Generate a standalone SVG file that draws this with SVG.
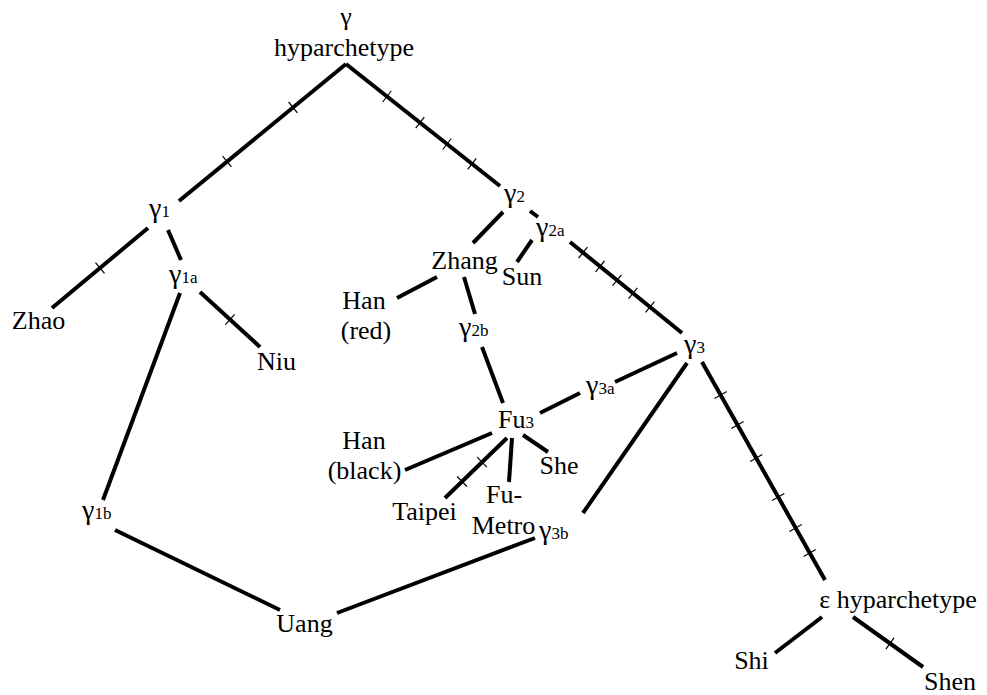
<svg xmlns="http://www.w3.org/2000/svg" width="987" height="695" viewBox="0 0 987 695">
<style>
  text { font-family: "Liberation Serif", "Times New Roman", serif; font-size: 26px; fill: #000; }
  .c { text-anchor: middle; }
  .g { font-size: 28px; }
  .s { font-size: 17px; }
  .e { stroke: #000; stroke-width: 4; fill: none; stroke-linecap: butt; }
  .t { stroke: #000; stroke-width: 1.2; fill: none; }
</style>
<rect width="987" height="695" fill="#fff"/>
<g id="connectors">
  <line class="e" x1="346" y1="64" x2="179" y2="201"/>
  <line class="e" x1="346" y1="64" x2="500" y2="186"/>
  <line class="e" x1="148" y1="228" x2="52" y2="308"/>
  <line class="e" x1="168" y1="230" x2="181" y2="260"/>
  <line class="e" x1="200" y1="292" x2="260" y2="347"/>
  <line class="e" x1="180" y1="293" x2="103" y2="500"/>
  <line class="e" x1="115" y1="530" x2="280" y2="610"/>
  <line class="e" x1="337" y1="613" x2="535" y2="538"/>
  <line class="e" x1="503" y1="212" x2="473" y2="243"/>
  <line class="e" x1="530" y1="211" x2="538" y2="217"/>
  <line class="e" x1="532" y1="240" x2="517" y2="262"/>
  <line class="e" x1="570" y1="242" x2="682" y2="333"/>
  <line class="e" x1="397" y1="298" x2="437" y2="277"/>
  <line class="e" x1="464" y1="277" x2="475" y2="314"/>
  <line class="e" x1="482" y1="347" x2="503" y2="403"/>
  <line class="e" x1="540" y1="413" x2="580" y2="393"/>
  <line class="e" x1="615" y1="382" x2="677" y2="353"/>
  <line class="e" x1="687" y1="363" x2="583" y2="513"/>
  <line class="e" x1="702" y1="362" x2="825" y2="580"/>
  <line class="e" x1="492" y1="433" x2="405" y2="470"/>
  <line class="e" x1="507" y1="438" x2="445" y2="498"/>
  <line class="e" x1="512" y1="438" x2="509" y2="482"/>
  <line class="e" x1="523" y1="435" x2="548" y2="452"/>
  <line class="e" x1="822" y1="617" x2="775" y2="653"/>
  <line class="e" x1="853" y1="617" x2="923" y2="667"/>
  <g id="ticks">
    <line class="t" x1="288.6" y1="102" x2="297.4" y2="112.8"/>
    <line class="t" x1="222.6" y1="156.1" x2="231.4" y2="166.9"/>
    <line class="t" x1="391.3" y1="91" x2="382.7" y2="102"/>
    <line class="t" x1="424.3" y1="117.1" x2="415.7" y2="128.1"/>
    <line class="t" x1="451.3" y1="138.5" x2="442.7" y2="149.5"/>
    <line class="t" x1="476.3" y1="158.3" x2="467.7" y2="169.3"/>
    <line class="t" x1="95.5" y1="262.6" x2="104.5" y2="273.4"/>
    <line class="t" x1="234.7" y1="314.3" x2="225.3" y2="324.7"/>
    <line class="t" x1="587.4" y1="247.2" x2="578.6" y2="258"/>
    <line class="t" x1="604.4" y1="261" x2="595.6" y2="271.8"/>
    <line class="t" x1="621.4" y1="274.8" x2="612.6" y2="285.6"/>
    <line class="t" x1="637.4" y1="287.8" x2="628.6" y2="298.6"/>
    <line class="t" x1="654.4" y1="301.6" x2="645.6" y2="312.4"/>
    <line class="t" x1="726.7" y1="391.6" x2="714.5" y2="398.4"/>
    <line class="t" x1="743.6" y1="421.6" x2="731.4" y2="428.4"/>
    <line class="t" x1="762.3" y1="454.6" x2="750.1" y2="461.4"/>
    <line class="t" x1="784.3" y1="493.6" x2="772.1" y2="500.4"/>
    <line class="t" x1="801.7" y1="524.6" x2="789.5" y2="531.4"/>
    <line class="t" x1="815.8" y1="549.6" x2="803.6" y2="556.4"/>
    <line class="t" x1="894.1" y1="637.7" x2="885.9" y2="649.1"/>
    <line class="t" x1="477.1" y1="457.2" x2="486.9" y2="467.2"/>
    <line class="t" x1="457.1" y1="476.5" x2="466.9" y2="486.5"/>
  </g>
</g>
<g id="gamma">
  <text class="c" x="346" y="25">γ</text>
  <text class="c" x="344" y="56">hyparchetype</text>
</g>
<g id="gamma1"><text class="g" x="149" y="217">γ<tspan class="s">1</tspan></text></g>
<g id="gamma1a"><text class="g" x="169" y="283">γ<tspan class="s">1a</tspan></text></g>
<g id="gamma1b"><text class="g" x="82" y="519">γ<tspan class="s">1b</tspan></text></g>
<g id="gamma2"><text class="g" x="504" y="202">γ<tspan class="s">2</tspan></text></g>
<g id="gamma2a"><text class="g" x="536" y="236">γ<tspan class="s">2a</tspan></text></g>
<g id="gamma2b"><text class="g" x="459" y="336">γ<tspan class="s">2b</tspan></text></g>
<g id="gamma3"><text class="g" x="684" y="353">γ<tspan class="s">3</tspan></text></g>
<g id="gamma3a"><text class="g" x="586" y="394">γ<tspan class="s">3a</tspan></text></g>
<g id="gamma3b"><text class="g" x="539" y="539">γ<tspan class="s">3b</tspan></text></g>
<g id="zhao"><text class="c" x="38.5" y="329">Zhao</text></g>
<g id="niu"><text class="c" x="276.5" y="370">Niu</text></g>
<g id="zhang"><text class="c" x="464.5" y="269">Zhang</text></g>
<g id="sun"><text class="c" x="522" y="285">Sun</text></g>
<g id="han-red"><text class="c" x="364" y="309">Han</text><text class="c" x="366" y="339">(red)</text></g>
<g id="fu3"><text x="498" y="428">Fu<tspan class="s">3</tspan></text></g>
<g id="han-black"><text class="c" x="364" y="449">Han</text><text class="c" x="364.5" y="479">(black)</text></g>
<g id="she"><text class="c" x="559" y="474">She</text></g>
<g id="taipei"><text class="c" x="424.5" y="520">Taipei</text></g>
<g id="fu-metro"><text class="c" x="504" y="503">Fu-</text><text class="c" x="503.5" y="534">Metro</text></g>
<g id="uang"><text class="c" x="304.5" y="632">Uang</text></g>
<g id="epsilon"><text class="c" x="898" y="608">ε hyparchetype</text></g>
<g id="shi"><text class="c" x="751.5" y="669">Shi</text></g>
<g id="shen"><text class="c" x="950" y="690">Shen</text></g>
</svg>
